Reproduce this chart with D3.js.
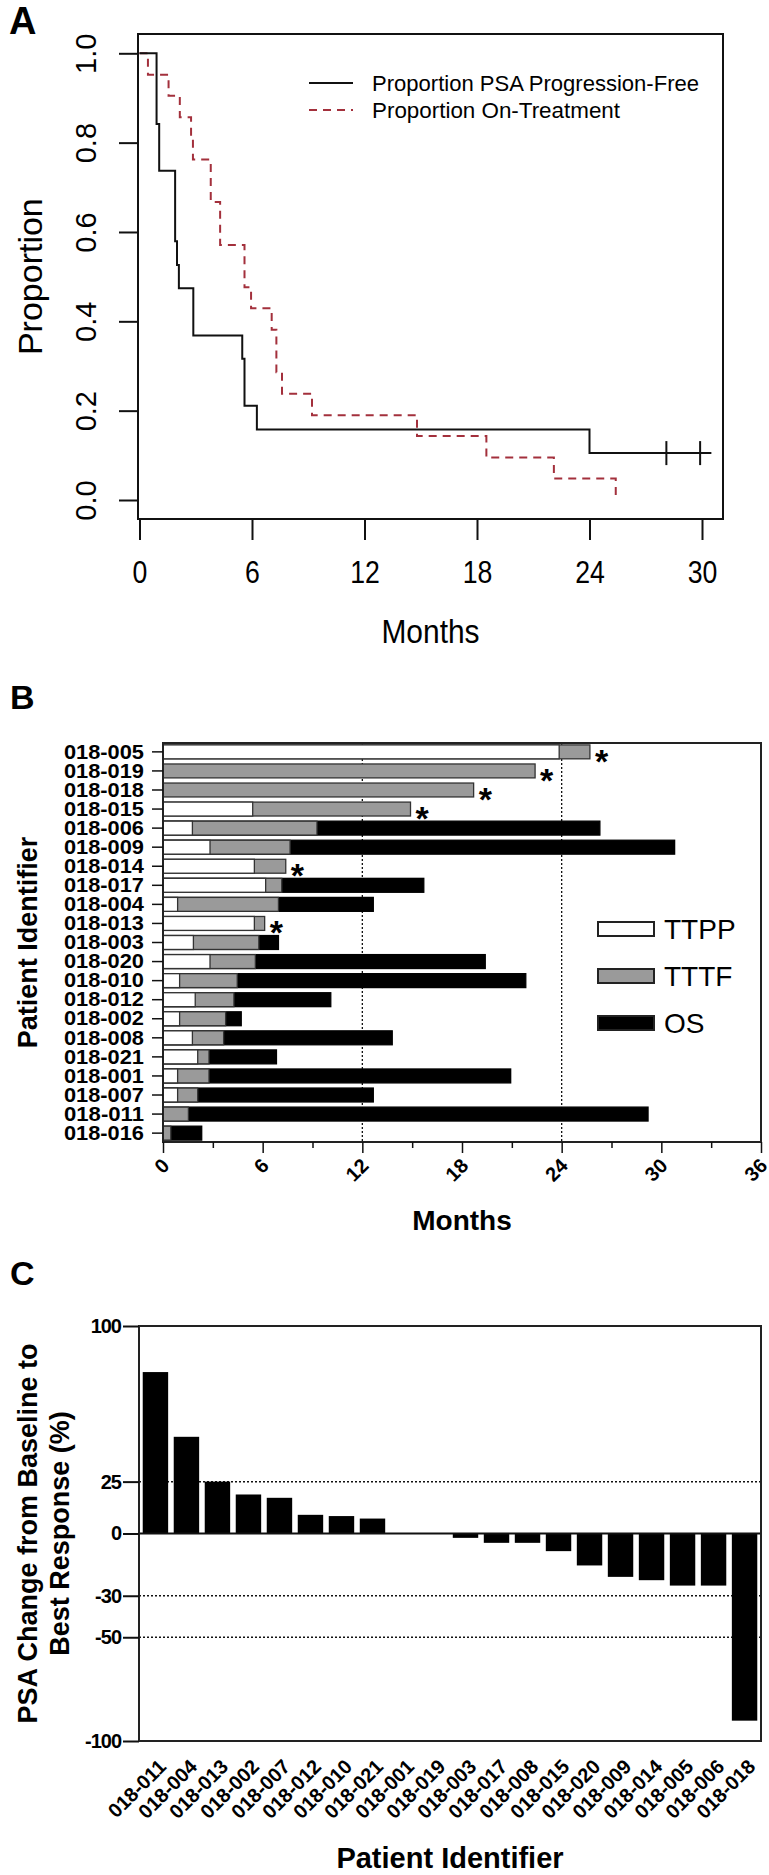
<!DOCTYPE html>
<html>
<head>
<meta charset="utf-8">
<script src="https://cdn.jsdelivr.net/npm/d3@7"></script>
<style>
body { margin: 0; background: #fff; }
svg { display: block; }
text { font-family: "Liberation Sans", Arial, sans-serif; fill: #000; }
</style>
</head>
<body>
<div id="fig"></div>
<script>
// ---- panel A: Kaplan-Meier style step curves ----
var pfsTimes = [0, 0.91, 1.05, 1.9, 2.0, 2.1, 2.87, 5.48, 5.6, 6.26, 24.0, 30.5];
var pfsProps = [1.0, 0.842, 0.737, 0.579, 0.526, 0.474, 0.368, 0.316, 0.211, 0.158, 0.105, 0.105];
var pfsCensored = [28.1, 29.9];
var txTimes = [0, 0.45, 1.55, 2.15, 2.75, 2.85, 3.8, 4.3, 5.6, 5.95, 7.05, 7.3, 7.6, 9.2, 14.8, 18.5, 22.1, 25.4];
var txProps = [1.0, 0.952, 0.905, 0.857, 0.810, 0.762, 0.667, 0.571, 0.476, 0.429, 0.381, 0.286, 0.238, 0.190, 0.143, 0.095, 0.048, 0.0];
var monthTicksA = [0, 6, 12, 18, 24, 30];
var propTicks = [0, 0.2, 0.4, 0.6, 0.8, 1.0];
var legendA = ["Proportion PSA Progression-Free", "Proportion On-Treatment"];

// ---- panel B: swimmer bars (months) ----
var patientsB = ["018-005", "018-019", "018-018", "018-015", "018-006", "018-009", "018-014",
    "018-017", "018-004", "018-013", "018-003", "018-020", "018-010", "018-012", "018-002",
    "018-008", "018-021", "018-001", "018-007", "018-011", "018-016"];
var ttpp = [23.85, 0, 0, 5.4, 1.77, 2.83, 5.5, 6.18, 0.88, 5.5, 1.83, 2.83, 1.0, 1.94, 1.0, 1.77, 2.09, 0.88, 0.88, 0, 0];
var tttf = [25.7, 22.4, 18.7, 14.9, 9.27, 7.65, 7.39, 7.15, 6.95, 6.12, 5.77, 5.56, 4.47, 4.27, 3.77, 3.65, 2.77, 2.77, 2.09, 1.53, 0.47];
var os = [0, 0, 0, 0, 26.3, 30.8, 0, 15.7, 12.66, 0, 6.95, 19.4, 21.84, 10.1, 4.71, 13.8, 6.83, 20.93, 12.66, 29.2, 2.33];
var onStudy = [1, 1, 1, 1, 0, 0, 1, 0, 0, 1, 0, 0, 0, 0, 0, 0, 0, 0, 0, 0, 0];
var monthTicksB = [0, 3, 6, 9, 12, 15, 18, 21, 24, 27, 30, 33, 36];
var refMonthsB = [12, 24];
var legendB = ["TTPP", "TTTF", "OS"];

// ---- panel C: waterfall of PSA change ----
var patientsC = ["018-011", "018-004", "018-013", "018-002", "018-007", "018-012", "018-010", "018-021",
    "018-001", "018-019", "018-003", "018-017", "018-008", "018-015", "018-020", "018-009",
    "018-014", "018-005", "018-006", "018-018"];
var psaChange = [77.8, 46.6, 25, 18.8, 17.2, 9.0, 8.4, 7.2, 0, 0, -2.1, -4.5, -4.5, -8.5, -15.4, -20.9, -22.5, -25.1, -25.1, -90.2];
var psaTicks = [100, 25, 0, -30, -50, -100];
var psaRefLines = [25, -30, -50];

var svg = d3.select("#fig").append("svg")
    .attr("width", 769)
    .attr("height", 1875);

var ink = "#111";
var redDash = "#a3303c";

// =================== A ===================
svg.append("text").attr("x", 9).attr("y", 34)
    .style("font-size", "38px").style("font-weight", "bold").text("A");

var xA = d3.scaleLinear().domain([0, 30]).range([139.5, 702]);
var yA = d3.scaleLinear().domain([0, 1]).range([500, 53.3]);
var boxA = {left: 138, right: 723, top: 34, bottom: 519};

svg.append("rect")
    .attr("x", boxA.left).attr("y", boxA.top)
    .attr("width", boxA.right - boxA.left).attr("height", boxA.bottom - boxA.top)
    .attr("fill", "none").attr("stroke", ink).attr("stroke-width", 2);

var yAxisA = svg.append("g")
    .attr("transform", "translate(" + boxA.left + ",0)")
    .call(d3.axisLeft(yA).tickValues(propTicks).tickSize(19).tickFormat(d3.format(".1f")));
yAxisA.select(".domain").remove();
yAxisA.selectAll("line").attr("stroke", ink).attr("stroke-width", 2);
yAxisA.selectAll("text")
    .attr("transform", "rotate(-90)")
    .attr("x", 0).attr("y", -42).attr("dy", null)
    .attr("text-anchor", "middle")
    .style("font-size", "29px");

var xAxisA = svg.append("g")
    .attr("transform", "translate(0," + boxA.bottom + ")")
    .call(d3.axisBottom(xA).tickValues(monthTicksA).tickSize(21));
xAxisA.select(".domain").remove();
xAxisA.selectAll("line").attr("stroke", ink).attr("stroke-width", 2);
xAxisA.selectAll("text")
    .attr("y", 64).attr("dy", null)
    .attr("transform", "scale(0.86,1)")
    .style("font-size", "31px");

svg.append("text")
    .attr("transform", "translate(42," + yA(0.5) + ") rotate(-90)")
    .attr("text-anchor", "middle")
    .style("font-size", "34px").text("Proportion");
svg.append("text")
    .attr("x", (boxA.left + boxA.right) / 2).attr("y", 643)
    .attr("text-anchor", "middle")
    .attr("transform", "translate(" + ((boxA.left + boxA.right) / 2) * 0.12 + ",0) scale(0.88,1)")
    .style("font-size", "34px").text("Months");

var stepLine = d3.line()
    .x(function (d) { return xA(d[0]); })
    .y(function (d) { return yA(d[1]); })
    .curve(d3.curveStepAfter);

svg.append("path")
    .datum(d3.zip(txTimes, txProps))
    .attr("d", stepLine)
    .attr("fill", "none").attr("stroke", redDash).attr("stroke-width", 2)
    .attr("stroke-dasharray", "8,6");

svg.append("path")
    .datum(d3.zip(pfsTimes, pfsProps))
    .attr("d", stepLine)
    .attr("fill", "none").attr("stroke", ink).attr("stroke-width", 2);

// censor marks sit on the step level at that time
svg.selectAll(".censor")
    .data(pfsCensored)
    .enter()
    .append("line")
    .attr("class", "censor")
    .attr("x1", function (d) { return xA(d); })
    .attr("x2", function (d) { return xA(d); })
    .attr("y1", function (d) { return yA(pfsProps[d3.bisectRight(pfsTimes, d) - 1]) - 12; })
    .attr("y2", function (d) { return yA(pfsProps[d3.bisectRight(pfsTimes, d) - 1]) + 12; })
    .attr("stroke", ink).attr("stroke-width", 2);

var legA = svg.append("g").attr("transform", "translate(309,83)");
legA.selectAll("line")
    .data(legendA)
    .enter()
    .append("line")
    .attr("x1", 0).attr("x2", 44)
    .attr("y1", function (d, i) { return i * 27; })
    .attr("y2", function (d, i) { return i * 27; })
    .attr("stroke", function (d, i) { return i ? redDash : ink; })
    .attr("stroke-width", 2)
    .attr("stroke-dasharray", function (d, i) { return i ? "8,6" : null; });
legA.selectAll("text")
    .data(legendA)
    .enter()
    .append("text")
    .attr("x", 63)
    .attr("y", function (d, i) { return i * 27; })
    .attr("dy", "0.36em")
    .style("font-size", "22px")
    .attr("textLength", function (d, i) { return i ? 248 : 327; })
    .attr("lengthAdjust", "spacingAndGlyphs")
    .text(function (d) { return d; });

// =================== B ===================
svg.append("text").attr("x", 10).attr("y", 709)
    .style("font-size", "34px").style("font-weight", "bold").text("B");

var boxB = {left: 163, right: 761, top: 743, bottom: 1142};
var xB = d3.scaleLinear().domain([0, 36]).range([boxB.left, boxB.right]);
var yB = d3.scaleBand().domain(patientsB).range([boxB.top, boxB.bottom])
    .paddingInner(0.27).paddingOuter(0.1);
var rowsB = patientsB.map(function (p, i) {
    return {id: p, ttpp: ttpp[i], tttf: tttf[i], os: os[i], star: onStudy[i]};
});

svg.selectAll(".refB")
    .data(refMonthsB)
    .enter()
    .append("line")
    .attr("x1", function (d) { return xB(d); })
    .attr("x2", function (d) { return xB(d); })
    .attr("y1", boxB.top).attr("y2", boxB.bottom)
    .attr("stroke", ink).attr("stroke-width", 1.3)
    .attr("stroke-dasharray", "2,2");

function barsB(key, fill, stroke) {
    svg.selectAll(".bar-" + key)
        .data(rowsB.filter(function (d) { return d[key] > 0; }))
        .enter()
        .append("rect")
        .attr("class", "bar-" + key)
        .attr("x", xB(0))
        .attr("y", function (d) { return yB(d.id); })
        .attr("width", function (d) { return xB(d[key]) - xB(0); })
        .attr("height", yB.bandwidth())
        .attr("fill", fill)
        .attr("stroke", stroke)
        .attr("stroke-width", 1.3);
}
barsB("os", "#000", "#000");
barsB("tttf", "#9a9a9a", "#333");
barsB("ttpp", "#fff", "#333");

svg.selectAll(".star")
    .data(rowsB.filter(function (d) { return d.star; }))
    .enter()
    .append("text")
    .attr("class", "star")
    .attr("x", function (d) { return xB(Math.max(d.ttpp, d.tttf, d.os)) + 5; })
    .attr("y", function (d) { return yB(d.id) + yB.bandwidth() / 2 + 21; })
    .style("font-size", "34px").style("font-weight", "bold")
    .text("*");

svg.append("rect")
    .attr("x", boxB.left).attr("y", boxB.top)
    .attr("width", boxB.right - boxB.left).attr("height", boxB.bottom - boxB.top)
    .attr("fill", "none").attr("stroke", "#222").attr("stroke-width", 2);

var yAxisB = svg.append("g")
    .attr("transform", "translate(" + boxB.left + ",0)")
    .call(d3.axisLeft(yB).tickSize(11).tickPadding(8));
yAxisB.select(".domain").remove();
yAxisB.selectAll("line").attr("stroke", ink).attr("stroke-width", 1.5);
yAxisB.selectAll("text")
    .style("font-size", "21px").style("font-weight", "bold")
    .attr("textLength", 80).attr("lengthAdjust", "spacingAndGlyphs");

var xAxisB = svg.append("g")
    .attr("transform", "translate(0," + boxB.bottom + ")")
    .call(d3.axisBottom(xB).tickValues(monthTicksB).tickSize(11)
        .tickFormat(function (d) { return d % 6 === 0 ? d : ""; }));
xAxisB.select(".domain").remove();
xAxisB.selectAll("line")
    .attr("y2", function (d) { return d % 6 === 0 ? 11 : 6; })
    .attr("stroke", ink).attr("stroke-width", 1.5);
xAxisB.selectAll("text")
    .attr("x", 0).attr("y", 0).attr("dy", null)
    .attr("text-anchor", "end")
    .attr("transform", "translate(7,25) rotate(-45)")
    .style("font-size", "20px").style("font-weight", "bold");

svg.append("text")
    .attr("x", (boxB.left + boxB.right) / 2).attr("y", 1230)
    .attr("text-anchor", "middle")
    .style("font-size", "28px").style("font-weight", "bold")
    .text("Months");
svg.append("text")
    .attr("transform", "translate(37," + (boxB.top + boxB.bottom) / 2 + ") rotate(-90)")
    .attr("text-anchor", "middle")
    .style("font-size", "27px").style("font-weight", "bold")
    .text("Patient Identifier");

var legB = svg.append("g").attr("transform", "translate(598,929)");
legB.selectAll("rect")
    .data(legendB)
    .enter()
    .append("rect")
    .attr("x", 0)
    .attr("y", function (d, i) { return i * 47 - 7; })
    .attr("width", 56).attr("height", 14)
    .attr("fill", function (d, i) { return ["#fff", "#9a9a9a", "#000"][i]; })
    .attr("stroke", "#222").attr("stroke-width", 2);
legB.selectAll("text")
    .data(legendB)
    .enter()
    .append("text")
    .attr("x", 66)
    .attr("y", function (d, i) { return i * 47; })
    .attr("dy", "0.36em")
    .style("font-size", "28px")
    .text(function (d) { return d; });

// =================== C ===================
svg.append("text").attr("x", 10).attr("y", 1285)
    .style("font-size", "34px").style("font-weight", "bold").text("C");

var boxC = {left: 139, right: 761, top: 1326, bottom: 1741};
var xC = d3.scaleBand().domain(patientsC).range([boxC.left, boxC.right])
    .paddingInner(0.18).paddingOuter(0.12);
var yC = d3.scaleLinear().domain([-100, 100]).range([boxC.bottom, boxC.top]);

svg.selectAll(".refC")
    .data(psaRefLines)
    .enter()
    .append("line")
    .attr("x1", boxC.left).attr("x2", boxC.right)
    .attr("y1", function (d) { return yC(d); })
    .attr("y2", function (d) { return yC(d); })
    .attr("stroke", ink).attr("stroke-width", 1.5)
    .attr("stroke-dasharray", "2,2");

svg.selectAll(".barC")
    .data(d3.zip(patientsC, psaChange).filter(function (d) { return d[1] !== 0; }))
    .enter()
    .append("rect")
    .attr("class", "barC")
    .attr("x", function (d) { return xC(d[0]); })
    .attr("y", function (d) { return Math.min(yC(d[1]), yC(0)); })
    .attr("width", xC.bandwidth())
    .attr("height", function (d) { return Math.abs(yC(d[1]) - yC(0)); })
    .attr("fill", "#000");

svg.append("line")
    .attr("x1", boxC.left).attr("x2", boxC.right)
    .attr("y1", yC(0)).attr("y2", yC(0))
    .attr("stroke", ink).attr("stroke-width", 2.2);

svg.append("rect")
    .attr("x", boxC.left).attr("y", boxC.top)
    .attr("width", boxC.right - boxC.left).attr("height", boxC.bottom - boxC.top)
    .attr("fill", "none").attr("stroke", "#222").attr("stroke-width", 2);

var yAxisC = svg.append("g")
    .attr("transform", "translate(" + boxC.left + ",0)")
    .call(d3.axisLeft(yC).tickValues(psaTicks).tickSize(16).tickPadding(2)
        .tickFormat(function (d) { return String(d); }));
yAxisC.select(".domain").remove();
yAxisC.selectAll("line").attr("stroke", ink).attr("stroke-width", 2);
yAxisC.selectAll("text")
    .style("font-size", "20px").style("font-weight", "bold")
    .style("letter-spacing", "-1px");

svg.selectAll(".labC")
    .data(patientsC)
    .enter()
    .append("text")
    .attr("class", "labC")
    .attr("text-anchor", "end")
    .attr("transform", function (d) {
        return "translate(" + (xC(d) + xC.bandwidth() / 2 + 12) + "," + (boxC.bottom + 27) + ") rotate(-45)";
    })
    .style("font-size", "20px").style("font-weight", "bold")
    .text(function (d) { return d; });

var yLabC = svg.append("text")
    .attr("transform", "translate(37," + yC(0) + ") rotate(-90)")
    .attr("text-anchor", "middle")
    .style("font-size", "27px").style("font-weight", "bold");
yLabC.append("tspan").attr("x", 0).attr("dy", 0).text("PSA Change from Baseline to");
yLabC.append("tspan").attr("x", 0).attr("dy", 32).text("Best Response (%)");

svg.append("text")
    .attr("x", (boxC.left + boxC.right) / 2).attr("y", 1868)
    .attr("text-anchor", "middle")
    .style("font-size", "29px").style("font-weight", "bold")
    .text("Patient Identifier");
</script>
</body>
</html>
